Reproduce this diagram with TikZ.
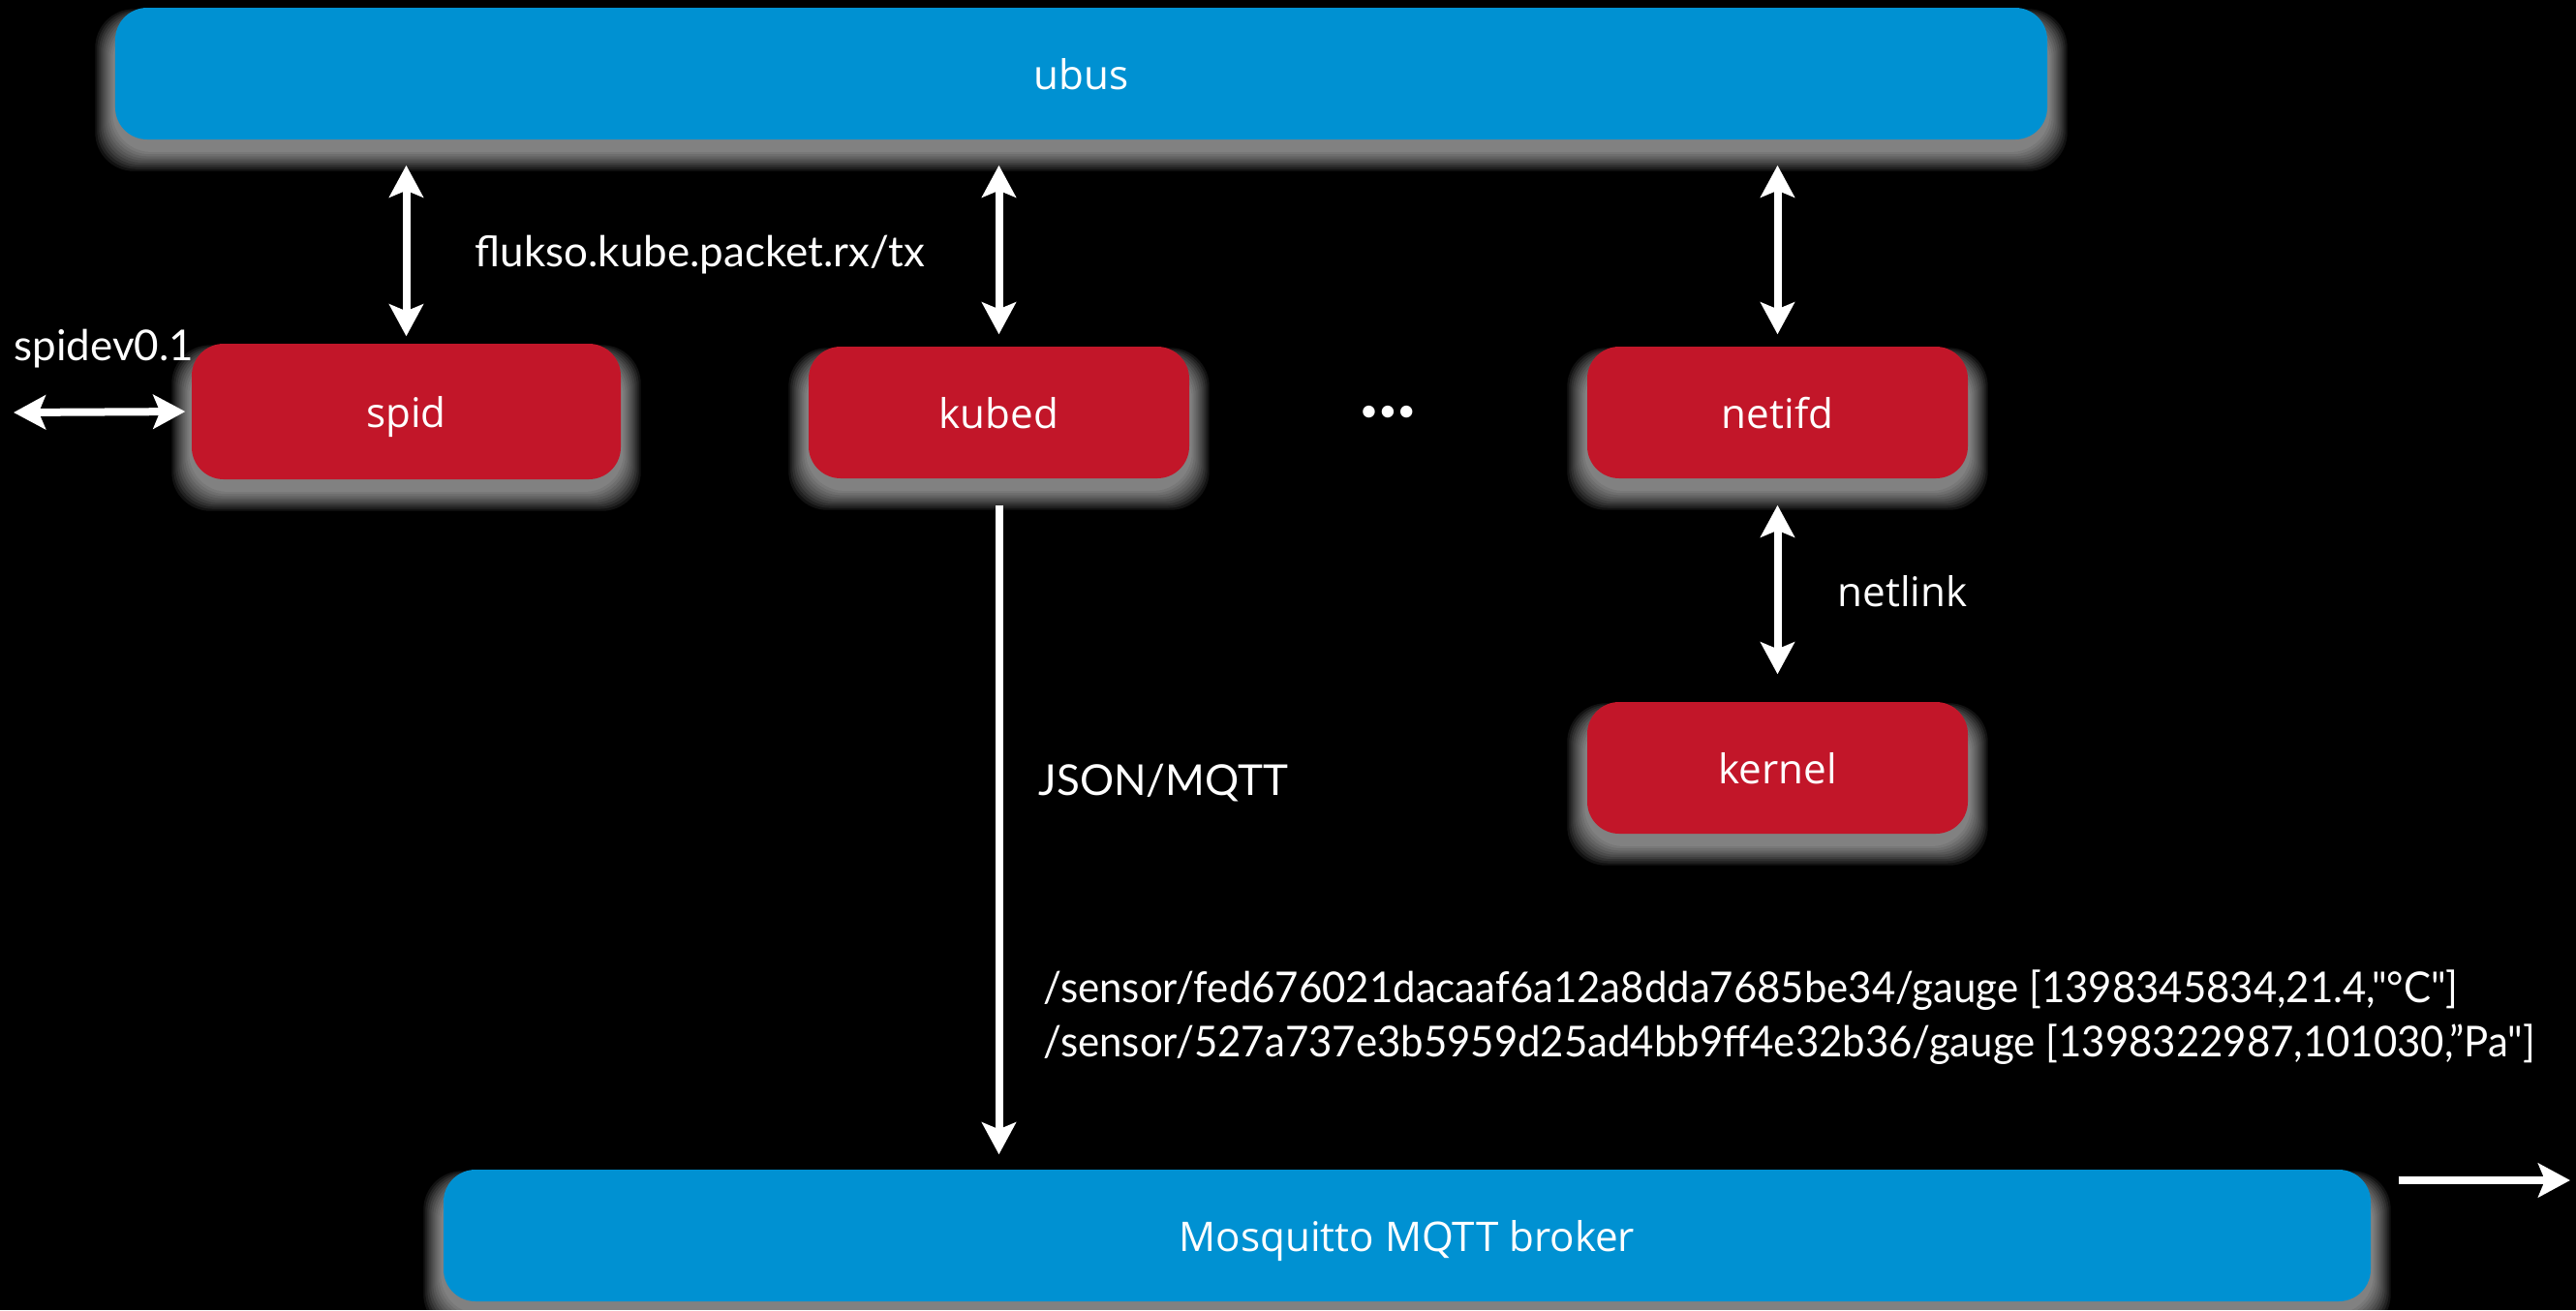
\documentclass[tikz,border=0pt]{standalone}
\usepackage{fontspec}
\setmainfont{Lato}[Ligatures=TeXOff]
\newfontfamily\boxfont{Open Sans}
\newfontfamily\topicfont{Lato}[FakeStretch=0.955, Ligatures=TeXOff]
\usetikzlibrary{arrows.meta, calc}
\pgfdeclarelayer{bg}
\pgfsetlayers{bg,main}
\definecolor{busblue}{RGB}{0,145,210}
\definecolor{procred}{RGB}{194,22,41}
\tikzset{
  bus/.style={fill=busblue, rounded corners=0.33cm, minimum height=1.36cm, text=white,
    text height=0.92em, text depth=0pt, font=\boxfont\fontsize{12}{14}\selectfont},
  proc/.style={fill=procred, rounded corners=0.33cm, minimum width=3.93cm, minimum height=1.36cm,
    text=white, text height=0.92em, text depth=0pt, font=\boxfont\fontsize{12}{14}\selectfont},
  link/.style={white, line width=0.08cm, -{Stealth[length=0.33cm, width=0.35cm, inset=0.07cm]}},
  dlink/.style={white, line width=0.08cm, {Stealth[length=0.33cm, width=0.35cm, inset=0.07cm]}-{Stealth[length=0.33cm, width=0.35cm, inset=0.07cm]}},
  lbl/.style={text=white, anchor=west, inner sep=0pt, font=\fontsize{12.5}{15.9}\selectfont},
}
\begin{document}
\begin{tikzpicture}
  \useasboundingbox (0,0) rectangle (26.6,-13.53);

  % buses and daemons
  \node[bus, minimum width=19.95cm] (ubus) at (11.165,-0.76) {ubus};
  \node[proc, minimum width=4.43cm, minimum height=1.40cm] (spid) at (4.195,-4.25) {spid};
  \node[proc] (kubed) at (10.315,-4.26) {kubed};
  \node[proc] (netifd) at (18.355,-4.26) {netifd};
  \node[proc] (kernel) at (18.355,-7.93) {kernel};
  \node[bus, minimum width=19.9cm] (broker) at (14.53,-12.76) {Mosquitto MQTT broker};
  \node[text=white, inner sep=0pt, font=\fontsize{9.5}{10}\selectfont] (dots) at (14.33,-4.27) {•••};

  % glow under the boxes
  \begin{pgfonlayer}{bg}
    \fill[black] (0,0) rectangle (26.6,-13.53);
    \foreach \n in {ubus, spid, kubed, netifd, kernel, broker}
      \foreach \i in {1,...,10}
        \fill[white, opacity=0.07, rounded corners=0.4cm]
          ($(\n.north west)+(-0.02*\i,-0.16+0.014*\i)$) rectangle ($(\n.south east)+(0.02*\i,-0.1-0.022*\i)$);
  \end{pgfonlayer}

  \draw[dlink, shorten <=0.26cm, shorten >=0.07cm] (spid.north |- ubus.south) -- (spid.north);
  \draw[dlink, shorten <=0.26cm, shorten >=0.12cm] (kubed.north |- ubus.south) -- (kubed.north);
  \draw[dlink, shorten <=0.26cm, shorten >=0.12cm] (netifd.north |- ubus.south) -- (netifd.north);
  \draw[dlink, shorten <=0.27cm, shorten >=0.28cm] (netifd.south) -- (kernel.north);

  \coordinate (spidev) at (0.14,-4.26);
  \draw[dlink, shorten >=0.06cm] (spidev) -- (spid.west);

  \draw[link, shorten <=0.27cm, shorten >=0.15cm] (kubed.south) -- (kubed.south |- broker.north);

  \coordinate (upstream) at (26.54,-12.19);
  \draw[link, shorten <=0.28cm] (broker.east |- upstream) -- (upstream);

  % labels
  \node[lbl] (rxtx) at (4.90,-2.63) {flukso.kube.packet.rx/tx};
  \node[lbl] (spidevlbl) at (0.14,-3.60) {spidev0.1};
  \node[lbl, font=\boxfont\fontsize{12}{14}\selectfont] (netlink) at (18.97,-6.11) {netlink};
  \node[lbl] (json) at (10.72,-8.09) {JSON/MQTT};
  \node[lbl, align=left, font=\topicfont\fontsize{12.5}{15.9}\selectfont] (topics) at (10.77,-10.51)
    {/sensor/fed676021dacaaf6a12a8dda7685be34/gauge [1398345834,21.4,"°C"]\\
     /sensor/527a737e3b5959d25ad4bb9ff4e32b36/gauge [1398322987,101030,”Pa"]};
\end{tikzpicture}
\end{document}
